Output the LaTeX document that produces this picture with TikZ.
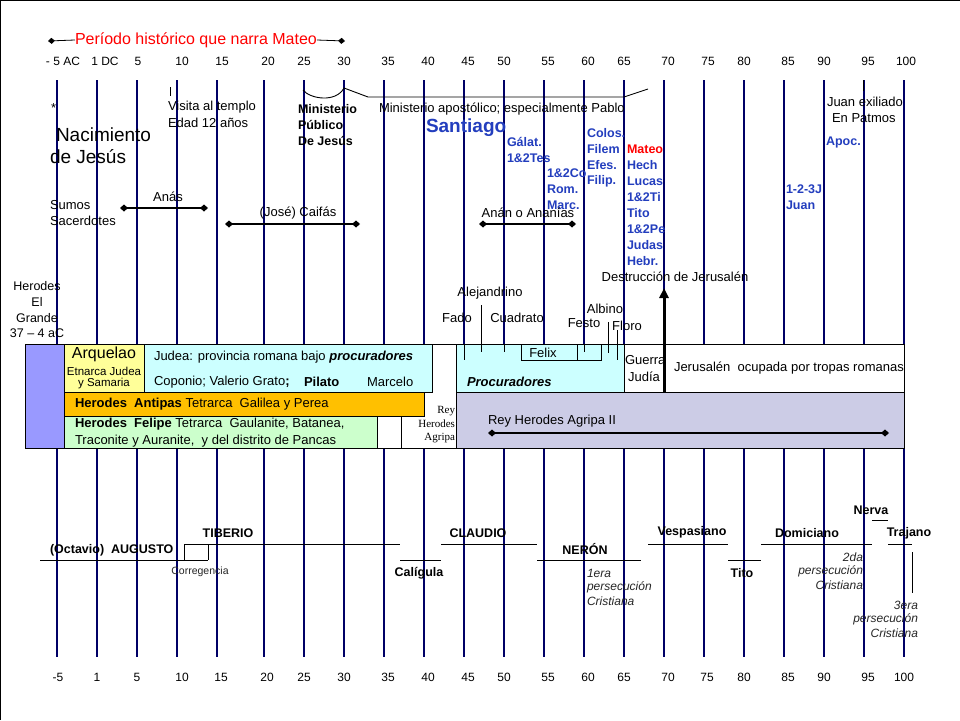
\documentclass[tikz,border=0pt]{standalone}
\usepackage{fontspec}
\setmainfont{Liberation Sans}
\newfontfamily\serifagr{Liberation Serif}
\usetikzlibrary{arrows.meta}
\definecolor{gridnavy}{RGB}{0,0,102}
\definecolor{tblue}{RGB}{35,62,190}
\definecolor{tred}{RGB}{255,0,0}
\definecolor{herpurple}{RGB}{153,153,255}
\definecolor{arqyellow}{RGB}{255,255,153}
\definecolor{judcyan}{RGB}{204,255,255}
\definecolor{antorange}{RGB}{255,192,0}
\definecolor{felgreen}{RGB}{204,255,204}
\definecolor{agrlav}{RGB}{204,204,230}
\newcommand{\fsz}[2]{\fontsize{#1}{#2}\selectfont}
\begin{document}
\begin{tikzpicture}[x=1pt,y=-1pt,
  every node/.style={inner sep=0pt, outer sep=0pt},
  txt/.style={font=\fsz{13}{16}},
  yr/.style={font=\fsz{12}{14}},
  bl/.style={font=\bfseries\fsz{12.5}{16}, text=tblue, anchor=west},
  emp/.style={font=\bfseries\fsz{12.5}{15}},
  pers/.style={font=\itshape\fsz{12}{14}, text=black!85},
  gridline/.style={draw=gridnavy, line width=1.3pt},
  tickline/.style={draw=black, line width=0.8pt},
  reign/.style={draw=black, line width=0.9pt},
  priest/.style={draw=black, line width=2.5pt, {Diamond[length=8pt,width=7pt]}-{Diamond[length=8pt,width=7pt]}},
  cell/.style={draw=black, line width=0.9pt},
]
\useasboundingbox (0,0) rectangle (960,720);
\fill[white] (0,0) rectangle (960,720);
\draw[line width=1pt] (0.5,720) -- (0.5,0.5) -- (960,0.5);

% grid
\foreach \x in {57,97,137,177,217,264,304,344,384,424,464,504,544,584,624,664,704,744,784,824,864,904}
  \draw[gridline] (\x,80) -- (\x,657);

% year labels
\foreach \lab/\x [count=\i] in {{- 5 AC}/63,{1 DC}/105,5/138,10/182,15/222,20/268,25/304,30/344,35/388,40/428,45/468,50/504,55/548,60/588,65/624,70/668,75/708,80/744,85/788,90/824,95/868,100/906}
  \node[yr, name=top\i] at (\x,61) {\lab};
\foreach \lab/\x [count=\i] in {-5/58,1/97,5/137,10/182,15/221,20/267,25/304,30/344,35/388,40/428,45/468,50/504,55/548,60/588,65/624,70/668,75/707,80/744,85/788,90/824,95/868,100/904}
  \node[yr, name=bot\i] at (\x,677) {\lab};

% title
\coordinate (tl) at (48,41);
\coordinate (tr) at (345,41);
\node[font=\fsz{16}{18}, text=tred, anchor=west, name=title] at (75,40) {Período histórico que narra Mateo};
\draw[line width=0.8pt, {Diamond[length=7pt,width=6pt]}-] (tl) -- (title.west);
\draw[line width=0.8pt, -{Diamond[length=7pt,width=6pt]}] (title.east) -- (tr);

% brace and marks
\draw[reign] (303,90) .. controls (310,99) and (336,103) .. (344,88) -- (368,97) -- (624,97) -- (648,89);
\draw[tickline] (170,87) -- (170,96);
\draw[tickline] (863,80) -- (863,91);

% upper texts
\node[txt, anchor=west, name=ast] at (51,108) {*};
\node[font=\fsz{19}{22}, anchor=west, name=nac1] at (56,135) {Nacimiento};
\node[font=\fsz{19}{22}, anchor=west, name=nac2] at (50,157) {de Jesús};
\node[txt, anchor=west, name=vis1] at (168,107) {Visita al templo};
\node[txt, anchor=west, name=vis2] at (168,123) {Edad 12 años};
\node[font=\bfseries\fsz{12.5}{16}, anchor=west, name=min1] at (298,109) {Ministerio};
\node[font=\bfseries\fsz{12.5}{16}, anchor=west, name=min2] at (298,125) {Público};
\node[font=\bfseries\fsz{12.5}{16}, anchor=west, name=min3] at (298,141) {De Jesús};
\node[txt, anchor=west, name=apost] at (379,109) {Ministerio apostólico; especialmente Pablo};
\node[font=\bfseries\fsz{19}{22}, text=tblue, anchor=west, name=sant] at (426,128) {Santiago};
\node[txt, anchor=west, name=juan1] at (827,102) {Juan exiliado};
\node[txt, anchor=west, name=juan2] at (832,118) {En Patmos};

% blue book lists
\node[bl, name=gal1] at (507,142) {Gálat.};
\node[bl, name=gal2] at (507,158) {1\&2Tes};
\foreach \t [count=\i] in {1\&2Co,Rom.,Marc.}
  \node[bl, name=cor\i] at (547,173+16*\i-16) {\t};
\foreach \t [count=\i] in {Colos.,Filem,Efes.,Filip.}
  \node[bl, name=col\i] at (587,133+16*\i-16) {\t};
\node[bl, text=tred, name=mat0] at (627,149) {Mateo};
\foreach \t [count=\i] in {Hech,Lucas,1\&2Ti,Tito,1\&2Pe,Judas,Hebr.}
  \node[bl, name=mat\i] at (627,149+16*\i) {\t};
\node[bl, name=jn1] at (786,189) {1-2-3J};
\node[bl, name=jn2] at (786,205) {Juan};
\node[bl, name=apoc] at (826,142) {Apoc.};

% high priests
\node[txt, anchor=west, name=sum1] at (50,205) {Sumos};
\node[txt, anchor=west, name=sum2] at (50,221) {Sacerdotes};
\node[txt, name=anas] at (168,197) {Anás};
\node[txt, name=caif] at (298,213) {(José) Caifás};
\node[txt, name=anan] at (528,213) {Anán o Ananías};
\coordinate (an1) at (120,208); \coordinate (an2) at (208,208);
\coordinate (ca1) at (225,224); \coordinate (ca2) at (360,224);
\coordinate (aa1) at (479,224); \coordinate (aa2) at (576,224);
\draw[priest] (an1) -- (an2);
\draw[priest] (ca1) -- (ca2);
\draw[priest] (aa1) -- (aa2);

% Herodes el Grande
\node[font=\fsz{12.5}{16}, name=her1] at (37,286) {Herodes};
\node[font=\fsz{12.5}{16}, name=her2] at (37,302) {El};
\node[font=\fsz{12.5}{16}, name=her3] at (37,318) {Grande};
\node[font=\fsz{12.5}{16}, name=her4] at (37,333) {37 – 4 aC};

% procurators labels
\node[txt, name=alej] at (490,293) {Alejandrino};
\node[txt, name=fado] at (457,318) {Fado};
\node[txt, name=cuad] at (517,318) {Cuadrato};
\node[txt, name=albi] at (605,309) {Albino};
\node[txt, name=fest] at (584,323) {Festo};
\node[txt, name=flor] at (627,326) {Floro};
\node[txt, name=destr] at (675,277) {Destrucción de Jerusalén};

% table of rulers
\draw[cell, fill=white] (25,344) rectangle (904,448);
\draw[cell, fill=herpurple] (25,344) rectangle (64,448);
\draw[cell, fill=arqyellow] (64,344) rectangle (144,392);
\draw[cell, fill=judcyan] (144,344) rectangle (432,392);
\draw[cell, fill=antorange] (64,392) rectangle (424,416);
\draw[cell, fill=felgreen] (64,416) rectangle (377,448);
\draw[cell] (377,416) rectangle (401,448);
\draw[cell, fill=judcyan] (456,344) rectangle (624,392);
\draw[cell, fill=agrlav] (456,392) rectangle (904,448);
\draw[cell] (521,344) rectangle (601,360);
\draw[cell] (577,344) -- (577,360);
\draw[tickline] (464,344) -- (464,360);
\draw[tickline] (504,344) -- (504,352);
\draw[tickline] (584,344) -- (584,352);
\draw[tickline] (481,305) -- (481,352);
\draw[tickline] (608,322) -- (608,353);
\draw[tickline] (617,330) -- (617,360);

\node[font=\fsz{16}{18}, name=arq1] at (104,354) {Arquelao};
\node[font=\fsz{11.5}{13}, name=arq2] at (104,371) {Etnarca Judea};
\node[font=\fsz{11.5}{13}, name=arq3] at (104,384) {y Samaria};
\node[txt, anchor=west, name=jud1] at (154,357) {Judea: provincia romana bajo \textbf{\itshape procuradores}};
\node[txt, anchor=west, name=jud2] at (154,382) {Coponio; Valerio Grato\textbf{;}};
\node[txt, anchor=west, font=\bfseries\fsz{13}{16}, name=pil] at (304,382) {Pilato};
\node[txt, anchor=west, name=marc] at (367,382) {Marcelo};
\node[txt, anchor=west, name=anti] at (75,404) {\textbf{Herodes\ \ Antipas} Tetrarca\ \ Galilea y Perea};
\node[txt, anchor=west, name=fel1] at (75,424) {\textbf{Herodes\ \ Felipe} Tetrarca\ \ Gaulanite,\ Batanea,};
\node[txt, anchor=west, name=fel2] at (75,441) {Traconite y Auranite,\ \ y del distrito de Pancas};
\node[font=\serifagr\fsz{11}{13}, anchor=east, name=agr1] at (455,411) {Rey};
\node[font=\serifagr\fsz{11}{13}, anchor=east, name=agr2] at (455,424) {Herodes};
\node[font=\serifagr\fsz{11}{13}, anchor=east, name=agr3] at (455,438) {Agripa};
\node[txt, name=felix] at (543,353) {Felix};
\node[font=\bfseries\itshape\fsz{13}{16}, anchor=west, name=proc] at (467,382) {Procuradores};
\node[txt, anchor=west, name=guer1] at (625,360) {Guerra};
\node[txt, name=guer2] at (644,377) {Judía};
\node[txt, anchor=west, name=ocup] at (674,368) {Jerusalén\ \ ocupada por tropas romanas};
\node[txt, anchor=west, name=agrii] at (488,421) {Rey Herodes Agripa II};
\coordinate (ag1) at (488,433); \coordinate (ag2) at (889,433);
\draw[priest] (ag1) -- (ag2);
\coordinate (war0) at (664,392); \coordinate (war1) at (664,288);
\draw[line width=3pt, -{Triangle[length=10pt,width=9pt]}] (war0) -- (war1);

% emperors
\draw[reign] (40,560) -- (208,560);
\draw[reign] (184,560) -- (184,544) -- (400,544);
\draw[reign] (208,544) -- (208,560);
\draw[reign] (400,560) -- (441,560);
\draw[reign] (441,544) -- (537,544);
\draw[reign] (537,560) -- (641,560);
\draw[reign] (648,544) -- (728,544);
\draw[reign] (728,560) -- (761,560);
\draw[reign] (761,544) -- (872,544);
\draw[reign] (872,520) -- (888,520);
\draw[reign] (888,544) -- (912,544);
\draw[reign] (912,552) -- (912,593);
\node[emp, anchor=west, name=aug] at (50,550) {(Octavio)\ \ AUGUSTO};
\node[font=\fsz{10.5}{12}, text=black!85, name=correg] at (200,572) {Corregencia};
\node[emp, name=tib] at (228,533) {TIBERIO};
\node[emp, name=cal] at (419,573) {Calígula};
\node[emp, name=cla] at (478,533) {CLAUDIO};
\node[emp, name=ner] at (585,549) {NERÓN};
\node[pers, anchor=west, name=p1a] at (587,573) {1era};
\node[pers, anchor=west, name=p1b] at (587,587) {persecución};
\node[pers, anchor=west, name=p1c] at (587,601) {Cristiana};
\node[emp, name=ves] at (692,532) {Vespasiano};
\node[emp, name=tit] at (742,573) {Tito};
\node[emp, name=dom] at (807,533) {Domiciano};
\node[pers, anchor=east, name=p2a] at (863,557) {2da};
\node[pers, anchor=east, name=p2b] at (863,571) {persecución};
\node[pers, anchor=east, name=p2c] at (863,585) {Cristiana};
\node[emp, name=ner2] at (871,510) {Nerva};
\node[emp, name=tra] at (909,533) {Trajano};
\node[pers, anchor=east, name=p3a] at (918,605) {3era};
\node[pers, anchor=east, name=p3b] at (918,619) {persecución};
\node[pers, anchor=east, name=p3c] at (918,633) {Cristiana};
\end{tikzpicture}
\end{document}
